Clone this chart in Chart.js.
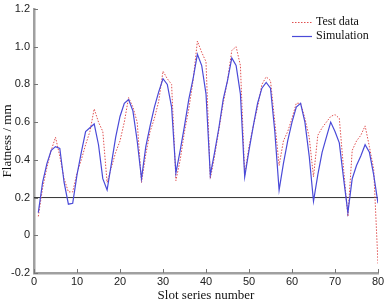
<!DOCTYPE html>
<html>
<head>
<meta charset="utf-8">
<script src="https://cdn.jsdelivr.net/npm/chart.js@4.4.0/dist/chart.umd.min.js"></script>
<style>
  html, body { margin: 0; padding: 0; background: #ffffff; }
  #wrap { width: 387px; height: 303px; }
</style>
</head>
<body>
<div id="wrap"><canvas id="c" width="387" height="303"></canvas></div>
<script>
const slots = [1,2,3,4,5,6,7,8,9,10,11,12,13,14,15,16,17,18,19,20,
  21,22,23,24,25,26,27,28,29,30,31,32,33,34,35,36,37,38,39,40,
  41,42,43,44,45,46,47,48,49,50,51,52,53,54,55,56,57,58,59,60,
  61,62,63,64,65,66,67,68,69,70,71,72,73,74,75,76,77,78,79,80];

const testData = [0.10,0.25,0.36,0.45,0.52,0.42,0.30,0.23,0.23,0.33,
  0.40,0.48,0.55,0.67,0.60,0.55,0.28,0.36,0.44,0.50,
  0.60,0.73,0.68,0.60,0.28,0.43,0.55,0.62,0.71,0.87,
  0.83,0.80,0.29,0.40,0.55,0.67,0.82,1.03,0.97,0.92,
  0.30,0.42,0.56,0.70,0.82,0.98,1.00,0.90,0.32,0.47,
  0.58,0.68,0.80,0.84,0.82,0.60,0.37,0.50,0.55,0.62,
  0.70,0.70,0.62,0.52,0.31,0.53,0.57,0.60,0.63,0.64,
  0.62,0.35,0.10,0.45,0.50,0.53,0.58,0.47,0.35,-0.15];

const simulation = [0.12,0.28,0.38,0.45,0.47,0.46,0.28,0.165,0.17,0.32,
  0.44,0.55,0.57,0.59,0.48,0.30,0.24,0.38,0.52,0.63,
  0.70,0.72,0.66,0.50,0.30,0.47,0.58,0.68,0.76,0.83,
  0.80,0.68,0.33,0.45,0.58,0.72,0.83,0.96,0.90,0.75,
  0.32,0.44,0.57,0.72,0.82,0.94,0.90,0.75,0.31,0.45,
  0.58,0.70,0.78,0.81,0.78,0.55,0.24,0.38,0.50,0.60,
  0.68,0.70,0.60,0.42,0.18,0.32,0.44,0.52,0.60,0.55,
  0.49,0.30,0.12,0.30,0.37,0.42,0.48,0.44,0.32,0.17];

const refLevel = 0.2;
const refRange = [0, 80];
const xTicks = [0,10,20,30,40,50,60,70,80];
const yTicks = [-0.2,0,0.2,0.4,0.6,0.8,1.0,1.2];
const seriesLabels = ['Test data', 'Simulation'];
const xTitle = 'Slot series number';
const yTitle = 'Flatness / mm';

const testColor = '#e05050';
const simColor = '#4a4ad8';

const toPoints = (xs, ys) => xs.map((x, i) => ({ x: x, y: ys[i] }));

const legendPlugin = {
  id: 'insideLegend',
  afterDraw(chart) {
    const ctx = chart.ctx;
    ctx.save();
    ctx.font = '12px "Liberation Serif", "Times New Roman", serif';
    ctx.textBaseline = 'middle';
    ctx.textAlign = 'left';
    const rows = [22, 36];
    [0, 1].forEach((di, k) => {
      const ds = chart.data.datasets[di];
      const y = rows[k];
      ctx.strokeStyle = ds.borderColor;
      ctx.lineWidth = ds.borderWidth;
      ctx.setLineDash(ds.borderDash || []);
      ctx.beginPath();
      ctx.moveTo(292, y + 0.5);
      ctx.lineTo(312, y + 0.5);
      ctx.stroke();
      ctx.setLineDash([]);
      ctx.fillStyle = '#111';
      ctx.fillText(ds.label, 316, y);
    });
    ctx.restore();
  }
};

const innerTicks = {
  id: 'innerTicks',
  afterDatasetsDraw(chart) {
    const ctx = chart.ctx;
    const xs = chart.scales.x, ys = chart.scales.y;
    const a = chart.chartArea;
    ctx.save();
    ctx.strokeStyle = '#777';
    ctx.lineWidth = 1;
    ys.ticks.forEach(t => {
      const py = Math.round(ys.getPixelForValue(t.value)) + 0.5;
      ctx.beginPath();
      ctx.moveTo(a.left, py);
      ctx.lineTo(a.left + 4, py);
      ctx.stroke();
    });
    xs.ticks.forEach(t => {
      const px = Math.round(xs.getPixelForValue(t.value)) + 0.5;
      ctx.beginPath();
      ctx.moveTo(px, a.bottom);
      ctx.lineTo(px, a.bottom - 4);
      ctx.stroke();
    });
    ctx.restore();
  }
};

new Chart(document.getElementById('c'), {
  type: 'line',
  data: {
    datasets: [
      {
        label: seriesLabels[0],
        data: toPoints(slots, testData),
        borderColor: testColor,
        borderWidth: 1,
        borderDash: [1.5, 1.5],
        pointRadius: 0,
        tension: 0,
        fill: false,
        order: 2
      },
      {
        label: seriesLabels[1],
        data: toPoints(slots, simulation),
        borderColor: simColor,
        borderWidth: 1.2,
        pointRadius: 0,
        tension: 0,
        fill: false,
        order: 1
      },
      {
        label: 'reference',
        data: toPoints(refRange, [refLevel, refLevel]),
        borderColor: '#333333',
        borderWidth: 1,
        pointRadius: 0,
        fill: false,
        order: 3
      }
    ]
  },
  options: {
    responsive: false,
    animation: false,
    devicePixelRatio: 1,
    layout: { padding: { top: 0, right: 9, left: 0, bottom: 0 } },
    plugins: {
      legend: { display: false },
      tooltip: { enabled: false }
    },
    scales: {
      x: {
        type: 'linear',
        min: 0, max: 80,
        afterBuildTicks: s => { s.ticks = xTicks.map(v => ({ value: v })); },
        afterFit: s => { s.height = 30; },
        ticks: {
          font: { family: '"Liberation Sans", Arial, sans-serif', size: 11 },
          color: '#222',
          padding: 2,
          maxRotation: 0,
          autoSkip: false
        },
        grid: { display: true, drawOnChartArea: false, drawTicks: false },
        border: { display: true, color: '#a0a0a0', width: 2.5 },
        title: {
          display: true,
          text: xTitle,
          font: { family: '"Liberation Serif", "Times New Roman", serif', size: 13 },
          color: '#111',
          padding: { top: 0, bottom: 0 }
        }
      },
      y: {
        type: 'linear',
        min: -0.2, max: 1.2,
        afterBuildTicks: s => { s.ticks = yTicks.map(v => ({ value: v })); },
        afterFit: s => { s.width = 34; },
        ticks: {
          font: { family: '"Liberation Sans", Arial, sans-serif', size: 11, lineHeight: 0.9 },
          color: '#222',
          padding: 4,
          autoSkip: false,
          callback: v => (Math.abs(v) < 1e-9 ? '0' : v.toFixed(1))
        },
        grid: { display: true, drawOnChartArea: false, drawTicks: false },
        border: { display: true, color: '#a0a0a0', width: 2.5 },
        title: {
          display: true,
          text: yTitle,
          font: { family: '"Liberation Serif", "Times New Roman", serif', size: 13 },
          color: '#111',
          padding: { top: 0, bottom: 0 }
        }
      }
    }
  },
  plugins: [innerTicks, legendPlugin]
});
</script>
</body>
</html>
